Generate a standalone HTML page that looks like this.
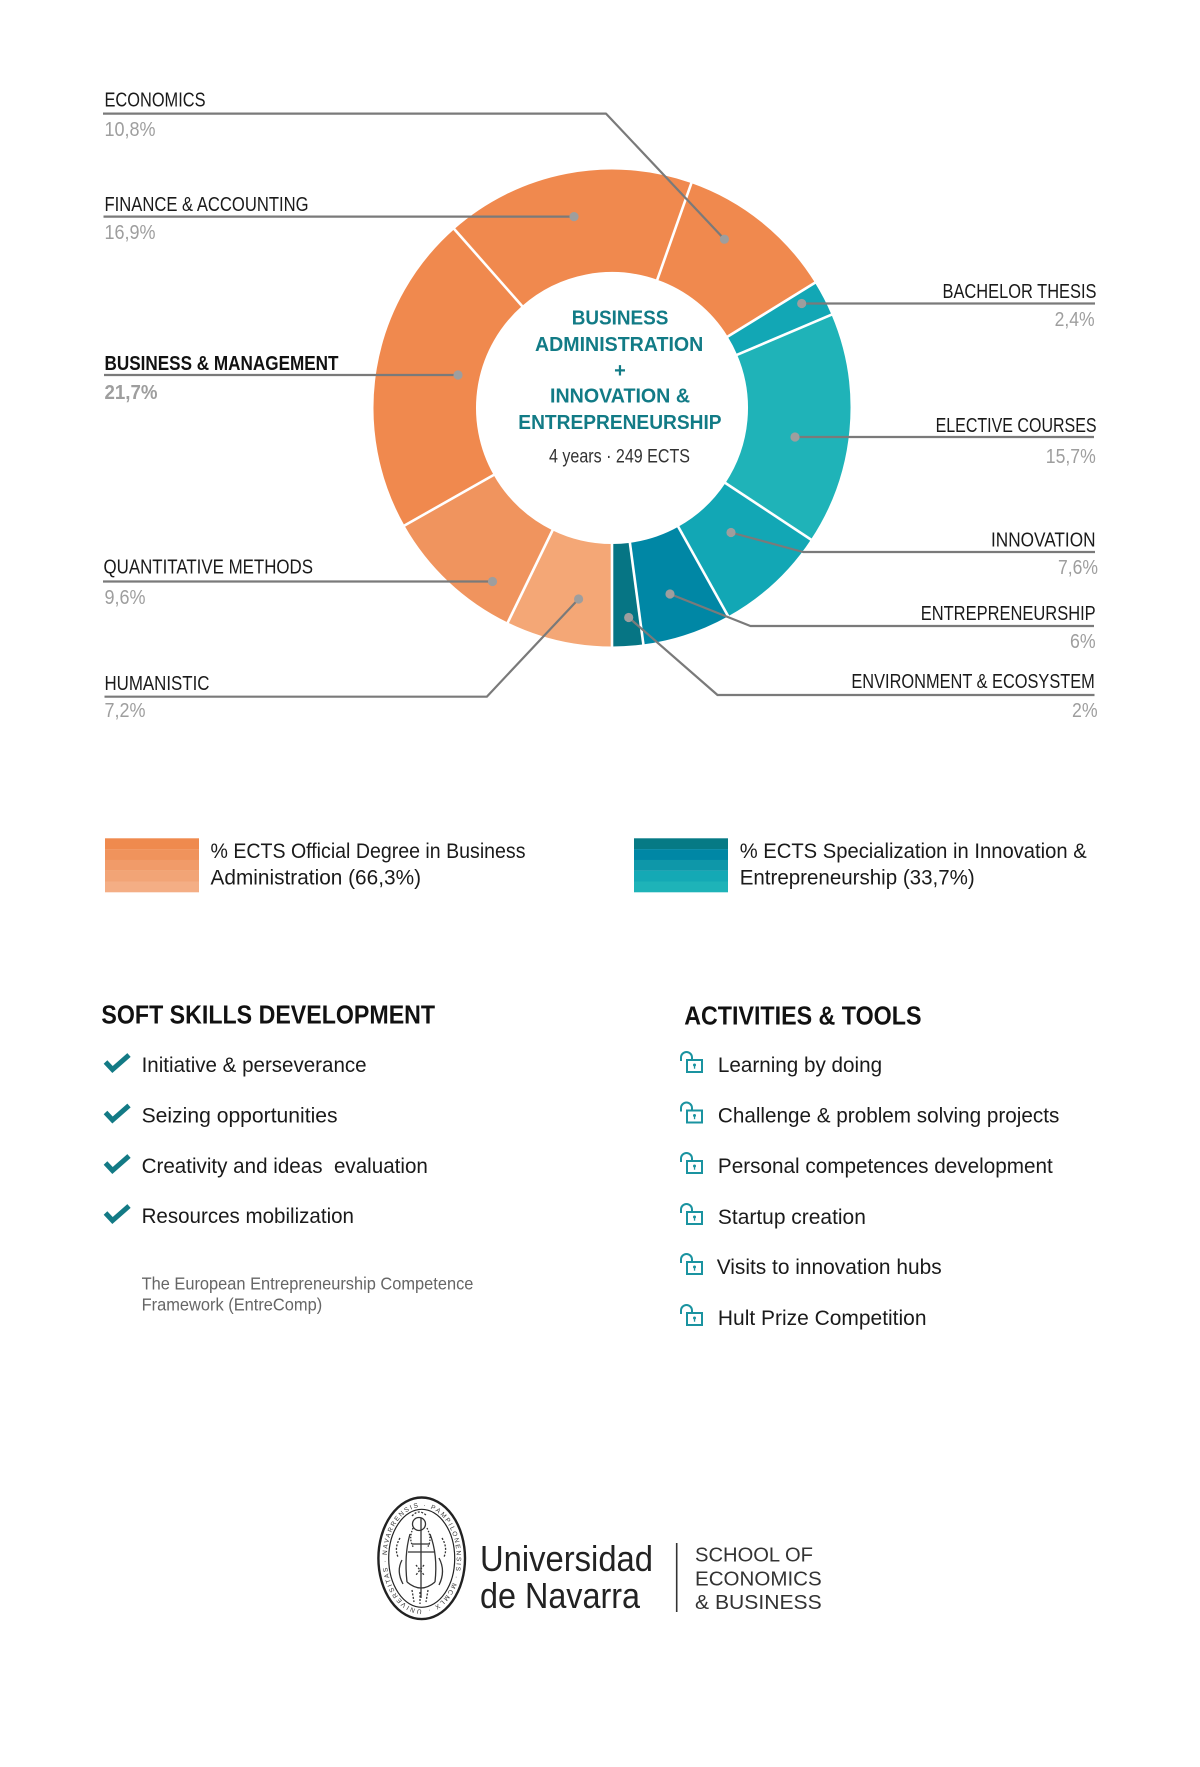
<!DOCTYPE html>
<html>
<head>
<meta charset="utf-8">
<style>
html,body{margin:0;padding:0;background:#fff;overflow:hidden;}
svg{display:block;}
text{font-family:"Liberation Sans", sans-serif;}
</style>
</head>
<body>
<svg width="1200" height="1767" viewBox="0 0 1200 1767" xmlns="http://www.w3.org/2000/svg">
<rect width="1200" height="1767" fill="#ffffff"/>

<!-- Donut segments -->
<g fill="none" stroke-width="102.5">
  <circle cx="612" cy="408" r="187.25" stroke="#F4A776" stroke-dasharray="84.71 3000" transform="rotate(90 612 408)"/>
  <circle cx="612" cy="408" r="187.25" stroke="#F0945E" stroke-dasharray="112.95 3000" transform="rotate(115.92 612 408)"/>
  <circle cx="612" cy="408" r="187.25" stroke="#F0894E" stroke-dasharray="255.31 3000" transform="rotate(150.48 612 408)"/>
  <circle cx="612" cy="408" r="187.25" stroke="#F0894E" stroke-dasharray="198.83 3000" transform="rotate(228.6 612 408)"/>
  <circle cx="612" cy="408" r="187.25" stroke="#F0894E" stroke-dasharray="127.07 3000" transform="rotate(289.44 612 408)"/>
  <circle cx="612" cy="408" r="187.25" stroke="#12A7B5" stroke-dasharray="28.24 3000" transform="rotate(328.32 612 408)"/>
  <circle cx="612" cy="408" r="187.25" stroke="#1FB3B8" stroke-dasharray="184.72 3000" transform="rotate(336.96 612 408)"/>
  <circle cx="612" cy="408" r="187.25" stroke="#12A7B5" stroke-dasharray="89.42 3000" transform="rotate(393.48 612 408)"/>
  <circle cx="612" cy="408" r="187.25" stroke="#0087A5" stroke-dasharray="70.59 3000" transform="rotate(420.84 612 408)"/>
  <circle cx="612" cy="408" r="187.25" stroke="#067584" stroke-dasharray="24.9 3000" transform="rotate(442.44 612 408)"/>
</g>
<!-- separators -->
<g stroke="#ffffff" stroke-width="2.6">
  <line x1="612" y1="275" x2="612" y2="166" transform="rotate(180 612 408)"/>
  <line x1="612" y1="275" x2="612" y2="166" transform="rotate(205.92 612 408)"/>
  <line x1="612" y1="275" x2="612" y2="166" transform="rotate(240.48 612 408)"/>
  <line x1="612" y1="275" x2="612" y2="166" transform="rotate(318.6 612 408)"/>
  <line x1="612" y1="275" x2="612" y2="166" transform="rotate(19.44 612 408)"/>
  <line x1="612" y1="275" x2="612" y2="166" transform="rotate(58.32 612 408)"/>
  <line x1="612" y1="275" x2="612" y2="166" transform="rotate(66.96 612 408)"/>
  <line x1="612" y1="275" x2="612" y2="166" transform="rotate(123.48 612 408)"/>
  <line x1="612" y1="275" x2="612" y2="166" transform="rotate(150.84 612 408)"/>
  <line x1="612" y1="275" x2="612" y2="166" transform="rotate(172.44 612 408)"/>
</g>

<!-- Leader lines -->
<g fill="none" stroke="#7a7a7a" stroke-width="2.2" stroke-linejoin="round">
  <polyline points="103,113.6 606,113.6 724.4,239.2"/>
  <polyline points="103.5,216.6 574,216.6"/>
  <polyline points="104,375 458,375"/>
  <polyline points="103,581.5 492.5,581.5"/>
  <polyline points="104.5,696.7 486.8,696.7 578.6,599"/>
  <polyline points="801.7,303.5 1095,303.5"/>
  <polyline points="795,437 1094,437"/>
  <polyline points="731,532.5 803,552 1095,552"/>
  <polyline points="670,594 750.4,626 1094,626"/>
  <polyline points="628.7,617.5 717.5,695 1094.5,695"/>
</g>
<g fill="#9e9e9e">
  <circle cx="724.4" cy="239.2" r="4.6"/>
  <circle cx="574" cy="216.6" r="4.6"/>
  <circle cx="458" cy="375" r="4.6"/>
  <circle cx="492.5" cy="581.5" r="4.6"/>
  <circle cx="578.6" cy="599" r="4.6"/>
  <circle cx="801.7" cy="303.5" r="4.6"/>
  <circle cx="795" cy="437" r="4.6"/>
  <circle cx="731" cy="532.5" r="4.6"/>
  <circle cx="670" cy="594" r="4.6"/>
  <circle cx="628.7" cy="617.5" r="4.6"/>
</g>

<!-- Center text -->
<g fill="#127b86" font-weight="bold" font-size="20">
  <text x="571.7" y="324.3" textLength="96.7" lengthAdjust="spacingAndGlyphs">BUSINESS</text>
  <text x="535" y="351" textLength="168.3" lengthAdjust="spacingAndGlyphs">ADMINISTRATION</text>
  <text x="620" y="377" text-anchor="middle">+</text>
  <text x="550" y="402.3" textLength="140" lengthAdjust="spacingAndGlyphs">INNOVATION &amp;</text>
  <text x="518.3" y="429" textLength="203.3" lengthAdjust="spacingAndGlyphs">ENTREPRENEURSHIP</text>
</g>
<text x="549" y="462.7" font-size="19" fill="#333" textLength="141" lengthAdjust="spacingAndGlyphs">4 years · 249 ECTS</text>

<!-- Left labels -->
<g font-size="20" fill="#1a1a1a">
  <text x="104.5" y="106.4" textLength="101" lengthAdjust="spacingAndGlyphs">ECONOMICS</text>
  <text x="104.5" y="211" textLength="204" lengthAdjust="spacingAndGlyphs">FINANCE &amp; ACCOUNTING</text>
  <text x="104.5" y="370" textLength="234" lengthAdjust="spacingAndGlyphs" font-weight="bold" fill="#111">BUSINESS &amp; MANAGEMENT</text>
  <text x="103.5" y="573.5" textLength="209.5" lengthAdjust="spacingAndGlyphs">QUANTITATIVE METHODS</text>
  <text x="104.5" y="690" textLength="105" lengthAdjust="spacingAndGlyphs">HUMANISTIC</text>
</g>
<g font-size="20" fill="#9e9e9e">
  <text x="104.5" y="136" textLength="51" lengthAdjust="spacingAndGlyphs">10,8%</text>
  <text x="104.5" y="239" textLength="51" lengthAdjust="spacingAndGlyphs">16,9%</text>
  <text x="104.5" y="399" textLength="53" lengthAdjust="spacingAndGlyphs" font-weight="bold">21,7%</text>
  <text x="104.5" y="604" textLength="41" lengthAdjust="spacingAndGlyphs">9,6%</text>
  <text x="104.5" y="717" textLength="41" lengthAdjust="spacingAndGlyphs">7,2%</text>
</g>

<!-- Right labels -->
<g font-size="20" fill="#1a1a1a">
  <text x="942.5" y="298" textLength="154" lengthAdjust="spacingAndGlyphs">BACHELOR THESIS</text>
  <text x="935.6" y="432" textLength="161" lengthAdjust="spacingAndGlyphs">ELECTIVE COURSES</text>
  <text x="991" y="546.5" textLength="104.5" lengthAdjust="spacingAndGlyphs">INNOVATION</text>
  <text x="920.7" y="620" textLength="175" lengthAdjust="spacingAndGlyphs">ENTREPRENEURSHIP</text>
  <text x="851.4" y="688" textLength="243.4" lengthAdjust="spacingAndGlyphs">ENVIRONMENT &amp; ECOSYSTEM</text>
</g>
<g font-size="20" fill="#9e9e9e">
  <text x="1054.6" y="326" textLength="40" lengthAdjust="spacingAndGlyphs">2,4%</text>
  <text x="1045.8" y="463" textLength="50" lengthAdjust="spacingAndGlyphs">15,7%</text>
  <text x="1058" y="574" textLength="40" lengthAdjust="spacingAndGlyphs">7,6%</text>
  <text x="1070" y="648" textLength="25.6" lengthAdjust="spacingAndGlyphs">6%</text>
  <text x="1072" y="717" textLength="25.6" lengthAdjust="spacingAndGlyphs">2%</text>
</g>

<!-- Legend -->
<rect x="105" y="838.3" width="94" height="10.9" fill="#EF8A4E"/>
<rect x="105" y="849.1" width="94" height="10.9" fill="#F0935C"/>
<rect x="105" y="859.9" width="94" height="10.9" fill="#F19B69"/>
<rect x="105" y="870.7" width="94" height="10.9" fill="#F2A476"/>
<rect x="105" y="881.5" width="94" height="10.8" fill="#F4AE85"/>
<rect x="634" y="838.3" width="94" height="10.9" fill="#067A85"/>
<rect x="634" y="849.1" width="94" height="10.9" fill="#0087A5"/>
<rect x="634" y="859.9" width="94" height="10.9" fill="#0E97A9"/>
<rect x="634" y="870.7" width="94" height="10.9" fill="#14A9B5"/>
<rect x="634" y="881.5" width="94" height="10.8" fill="#1EB3B8"/>
<g font-size="21" fill="#1a1a1a">
  <text x="210.5" y="858" textLength="315" lengthAdjust="spacingAndGlyphs">% ECTS Official Degree in Business</text>
  <text x="210.5" y="884.6" textLength="210.5" lengthAdjust="spacingAndGlyphs">Administration (66,3%)</text>
  <text x="739.7" y="858" textLength="347" lengthAdjust="spacingAndGlyphs">% ECTS Specialization in Innovation &amp;</text>
  <text x="739.7" y="884.6" textLength="235" lengthAdjust="spacingAndGlyphs">Entrepreneurship (33,7%)</text>
</g>

<!-- Headings -->
<g font-size="25.5" font-weight="bold" fill="#111">
  <text x="101.4" y="1023.5" textLength="333.7" lengthAdjust="spacingAndGlyphs">SOFT SKILLS DEVELOPMENT</text>
  <text x="684.2" y="1024.3" textLength="237.3" lengthAdjust="spacingAndGlyphs">ACTIVITIES &amp; TOOLS</text>
</g>

<!-- Soft skills list -->
<g fill="none" stroke="#137a85" stroke-width="5" stroke-linejoin="miter">
  <path d="M105.5 1062 L112.5 1069.5 L129 1055"/>
  <path d="M105.5 1112.5 L112.5 1120 L129 1105.5"/>
  <path d="M105.5 1163 L112.5 1170.5 L129 1156"/>
  <path d="M105.5 1213 L112.5 1220.5 L129 1206"/>
</g>
<g font-size="21" fill="#1a1a1a">
  <text x="141.6" y="1072" textLength="225" lengthAdjust="spacingAndGlyphs">Initiative &amp; perseverance</text>
  <text x="141.6" y="1122.5" textLength="196" lengthAdjust="spacingAndGlyphs">Seizing opportunities</text>
  <text x="141.6" y="1173" textLength="286.3" lengthAdjust="spacingAndGlyphs" xml:space="preserve">Creativity and ideas  evaluation</text>
  <text x="141.6" y="1223" textLength="212.4" lengthAdjust="spacingAndGlyphs">Resources mobilization</text>
</g>
<g font-size="17.5" fill="#666">
  <text x="141.6" y="1289.7" textLength="331.8" lengthAdjust="spacingAndGlyphs">The European Entrepreneurship Competence</text>
  <text x="141.6" y="1310.7" textLength="180.6" lengthAdjust="spacingAndGlyphs">Framework (EntreComp)</text>
</g>

<!-- Activities list with lock icons -->
<defs>
  <g id="lock" fill="none" stroke="#1a93a0" stroke-width="2">
    <path d="M681 1061 V1057.5 A5.5 5.5 0 0 1 692 1057.5 V1059.5"/>
    <rect x="687" y="1060" width="15" height="12"/>
    <circle cx="694.5" cy="1065" r="1.5" fill="#1a93a0" stroke="none"/>
    <rect x="693.9" y="1065.5" width="1.3" height="3.2" fill="#1a93a0" stroke="none"/>
  </g>
</defs>
<use href="#lock"/>
<use href="#lock" transform="translate(0 50.5)"/>
<use href="#lock" transform="translate(0 101)"/>
<use href="#lock" transform="translate(0 152)"/>
<use href="#lock" transform="translate(0 202)"/>
<use href="#lock" transform="translate(0 253)"/>
<g font-size="21" fill="#1a1a1a">
  <text x="717.9" y="1072" textLength="164.2" lengthAdjust="spacingAndGlyphs">Learning by doing</text>
  <text x="717.9" y="1122.5" textLength="341.4" lengthAdjust="spacingAndGlyphs">Challenge &amp; problem solving projects</text>
  <text x="717.9" y="1173" textLength="334.9" lengthAdjust="spacingAndGlyphs">Personal competences development</text>
  <text x="717.9" y="1224" textLength="148" lengthAdjust="spacingAndGlyphs">Startup creation</text>
  <text x="716.7" y="1274" textLength="225" lengthAdjust="spacingAndGlyphs">Visits to innovation hubs</text>
  <text x="717.9" y="1325" textLength="208.6" lengthAdjust="spacingAndGlyphs">Hult Prize Competition</text>
</g>

<!-- Logo seal -->
<g fill="none" stroke="#222">
  <ellipse cx="421.7" cy="1558.3" rx="43.3" ry="60.8" stroke-width="2.4"/>
  <ellipse cx="421.7" cy="1558.3" rx="33" ry="49" stroke-width="1.2"/>
  <path id="sealring" d="M421.7 1609.5 A35 51.2 0 1 1 421.8 1609.5" stroke="none"/>
  <g stroke-width="1.3" stroke="#333">
    <circle cx="419" cy="1524" r="6.5"/>
    <path d="M412 1516 Q419 1508 427 1516" stroke-dasharray="2 1.5"/>
    <path d="M410 1534 Q404 1555 407 1582 M430 1534 Q438 1555 435 1582"/>
    <path d="M421 1518 V1598 M408 1552 H434 M412 1544 H430"/>
    <path d="M402 1560 Q396 1571 403 1584 M439 1558 Q446 1571 439 1585"/>
    <path d="M407 1582 Q421 1594 435 1582"/>
    <path d="M412 1590 L414 1602 M420 1592 L420 1604 M428 1590 L426 1602 M416 1565 L424 1575 M424 1565 L416 1575" stroke-dasharray="2 1.5"/>
    <path d="M400 1538 Q394 1548 398 1557 M442 1538 Q448 1548 444 1557" stroke-dasharray="2 1.5"/>
    <path d="M413 1528 Q408 1540 414 1548 M427 1528 Q433 1540 427 1548" stroke-dasharray="1.5 1.5"/>
  </g>
</g>
<text font-size="6.5" fill="#333" letter-spacing="1.6"><textPath href="#sealring">UNIVERSITAS · NAVARRENSIS · PAMPILONENSIS · MCMLX ·</textPath></text>

<!-- Logo text -->
<g fill="#222" font-size="36">
  <text x="480" y="1571" textLength="173" lengthAdjust="spacingAndGlyphs">Universidad</text>
  <text x="480" y="1608" textLength="160" lengthAdjust="spacingAndGlyphs">de Navarra</text>
</g>
<line x1="676.7" y1="1543" x2="676.7" y2="1612" stroke="#333" stroke-width="1.6"/>
<g fill="#333" font-size="20.5">
  <text x="695" y="1561.7" textLength="118" lengthAdjust="spacingAndGlyphs">SCHOOL OF</text>
  <text x="695" y="1585.7" textLength="126.7" lengthAdjust="spacingAndGlyphs">ECONOMICS</text>
  <text x="695" y="1609" textLength="126.7" lengthAdjust="spacingAndGlyphs">&amp; BUSINESS</text>
</g>
</svg>
</body>
</html>
